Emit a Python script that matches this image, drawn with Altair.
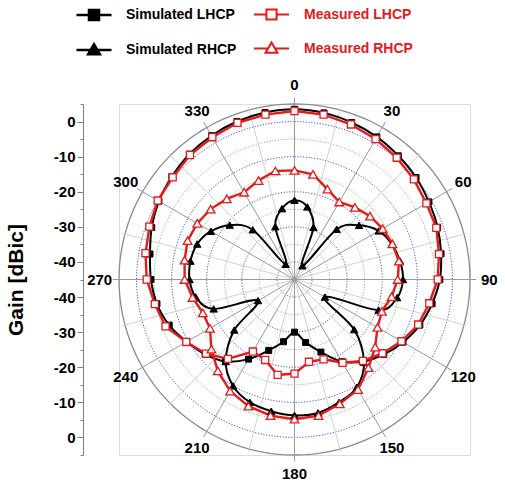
import altair as alt
import pandas as pd

# ---------------- data ----------------
angles = list(range(0, 360, 10))
sim_lhcp = [3.5, 3.2, 2.6, 1.9, 1.0, 0.2, -0.8, -1.6, -2.6, -3.6, -5.2, -7.0,
            -9.3, -11.8, -14.5, -18.0, -23.0, -26.8, -30.0, -27.0, -23.5, -18.8, -14.5, -11.8,
            -9.5, -7.0, -5.2, -4.1, -3.2, -1.7, -0.4, 0.6, 1.6, 2.3, 2.9, 3.3]
meas_lhcp = [3.0, 2.7, 2.0, 1.2, 0.3, -0.6, -1.6, -2.0, -3.2, -4.2, -6.0, -7.5,
             -9.8, -12.3, -14.7, -17.6, -20.8, -21.2, -18.2, -17.4, -20.6, -21.3, -15.5, -12.1,
             -9.4, -5.9, -4.6, -2.9, -1.9, -1.0, 0.0, 0.3, 1.3, 1.8, 2.5, 2.7]
sim_rhcp = [-22.4, -24.0, -29.2, -40.5, -26.3, -21.0, -17.3, -15.5, -14.5, -14.1, -15.3, -19.5,
            -35.0, -22.8, -14.2, -9.5, -7.8, -6.4, -6.3, -6.9, -7.8, -10.0, -14.5, -22.6,
            -33.0, -20.5, -16.4, -15.1, -14.9, -15.5, -17.5, -20.9, -26.5, -40.0, -29.0, -24.5]
meas_rhcp = [-13.9, -14.6, -17.6, -19.5, -18.2, -16.9, -16.0, -15.3, -14.8, -15.6, -16.9, -18.5,
             -17.7, -15.0, -12.2, -8.8, -7.3, -5.6, -5.2, -5.6, -6.6, -8.3, -11.0, -14.1,
             -17.2, -17.2, -15.5, -13.7, -13.2, -12.6, -13.0, -13.8, -15.0, -16.3, -15.0, -13.6]

series_names = ["Simulated LHCP", "Measured LHCP", "Simulated RHCP", "Measured RHCP"]
angle_labels = list(range(0, 360, 30))
spoke_angles = list(range(0, 360, 15))
ring_major = [-40, -30, -20, -10, 0]
ring_minor = [-35, -25, -15, -5]
ring_outer = [5]
radial_ticks = list(range(-50, 51, 5))  # distance from centre; centre = -45 dBic
GAIN_MIN = -45

RED = "#e41a1c"
FONT = "Liberation Sans"

rows = []
for name, vals in zip(series_names, [sim_lhcp, meas_lhcp, sim_rhcp, meas_rhcp]):
    for a, g in zip(angles, vals):
        rows.append({"series": name, "angle": a, "gain": g})
df = pd.DataFrame(rows)

ring_rows = []
for kind, gains in (("major", ring_major), ("minor", ring_minor), ("outer", ring_outer)):
    for g in gains:
        for a in range(0, 361, 2):
            ring_rows.append({"ring": g, "kind": kind, "angle": a, "gain": g})
rings = pd.DataFrame(ring_rows)

spokes = pd.DataFrame({"angle": spoke_angles,
                       "kind": ["major" if a % 30 == 0 else "minor" for a in spoke_angles]})
labels = pd.DataFrame({"angle": angle_labels, "label": [str(a) for a in angle_labels]})

# ---------------- scales / axes ----------------
xs = alt.Scale(domain=[-50, 50], nice=False, zero=False)
ys = alt.Scale(domain=[-50, 50], nice=False, zero=False)
yaxis = alt.Axis(
    values=radial_ticks,
    labelExpr="abs(datum.value) % 10 == 5 ? (abs(datum.value) == 45 ? '0' : '-' + toString(45 - abs(datum.value))) : ''",
    tickSize={"condition": {"test": "abs(datum.value) % 10 == 5", "value": 6}, "value": 3},
    offset=36, grid=False, domainColor="#808080", tickColor="#808080",
    labelFont=FONT, labelFontSize=15, labelFontWeight="bold", labelColor="black",
    labelPadding=2, labelOverlap=False, labelFlush=False,
    title="Gain [dBic]", titleFont=FONT, titleFontSize=21, titleFontWeight="bold",
    titleColor="black", titlePadding=27,
)


def X(f):
    return alt.X(f, type="quantitative", scale=xs, axis=None)


def Y(f):
    return alt.Y(f, type="quantitative", scale=ys, axis=yaxis)


def polar(ch, r_expr):
    return (ch.transform_calculate(r=r_expr)
              .transform_calculate(x="datum.r * sin(datum.angle * PI / 180)",
                                   y="datum.r * cos(datum.angle * PI / 180)"))


GAIN_R = f"max(0, datum.gain - ({GAIN_MIN}))"

layers = []

# grid rings
ring_style = {
    "major": dict(color="#4f4fe8", strokeWidth=1, strokeDash=[1.2, 1.6]),
    "minor": dict(color="#74d474", strokeWidth=1, strokeDash=[1.2, 1.6]),
    "outer": dict(color="#8a8a8a", strokeWidth=1.3),
}
for kind, st in ring_style.items():
    layers.append(
        polar(alt.Chart(rings).transform_filter(alt.datum.kind == kind), GAIN_R)
        .mark_line(**st)
        .encode(x=X("x"), y=Y("y"), detail="ring:N", order=alt.Order("angle:Q"))
    )

# spokes
for kind, col, rend in (("minor", "#d2d2d2", 50.8), ("major", "#9a9a9a", 51.8)):
    layers.append(
        alt.Chart(spokes).transform_filter(alt.datum.kind == kind)
        .transform_calculate(x0="0", y0="0",
                             x1=f"{rend} * sin(datum.angle * PI / 180)",
                             y1=f"{rend} * cos(datum.angle * PI / 180)")
        .mark_rule(color=col, strokeWidth=1)
        .encode(x=X("x0"), y=Y("y0"), x2="x1:Q", y2="y1:Q")
    )

# angle labels
layers.append(
    polar(alt.Chart(labels), "55.5")
    .mark_text(font=FONT, fontSize=15, fontWeight="bold", color="black",
               align="center", baseline="middle")
    .encode(x=X("x"), y=Y("y"), text="label:N")
)

# data lines
line_style = {
    "Simulated LHCP": dict(color="black", strokeWidth=2, interpolate="cardinal-closed"),
    "Simulated RHCP": dict(color="black", strokeWidth=2, interpolate="cardinal-closed"),
    "Measured LHCP": dict(color=RED, strokeWidth=2.4, interpolate="linear-closed"),
    "Measured RHCP": dict(color=RED, strokeWidth=2.4, interpolate="linear-closed"),
}
point_style = {
    "Simulated LHCP": dict(shape="square", filled=True, fill="black", stroke="black", size=36, strokeWidth=1),
    "Simulated RHCP": dict(shape="triangle-up", filled=True, fill="black", stroke="black", size=55, strokeWidth=1),
    "Measured LHCP": dict(shape="square", filled=True, fill="white", stroke=RED, size=50, strokeWidth=1.3),
    "Measured RHCP": dict(shape="triangle-up", filled=True, fill="white", stroke=RED, size=75, strokeWidth=1.3),
}
for name in ["Simulated LHCP", "Simulated RHCP", "Measured LHCP", "Measured RHCP"]:
    layers.append(
        polar(alt.Chart(df).transform_filter(alt.datum.series == name), GAIN_R)
        .mark_line(**line_style[name])
        .encode(x=X("x"), y=Y("y"), order=alt.Order("angle:Q"))
    )
for name in ["Simulated LHCP", "Simulated RHCP", "Measured LHCP", "Measured RHCP"]:
    layers.append(
        polar(alt.Chart(df).transform_filter(alt.datum.series == name), GAIN_R)
        .mark_point(opacity=1, **point_style[name])
        .encode(x=X("x"), y=Y("y"))
    )

# legends (two columns: simulated in black, measured in red)
SQ = "M-1,0H-0.29M0.29,0H1M-0.29,-0.29H0.29V0.29H-0.29Z"
TRI = "M-1,0H-0.2M0.2,0H1M0,-0.34L0.34,0.24H-0.34Z"
sim_names = ["Simulated LHCP", "Simulated RHCP"]
meas_names = ["Measured LHCP", "Measured RHCP"]
leg_common = dict(title=None, orient="none", direction="vertical", symbolSize=1225,
                  labelFont=FONT, labelFontSize=14,
                  labelFontWeight="bold", rowPadding=6, padding=0, labelLimit=300)
layers.append(
    alt.Chart(pd.DataFrame({"sim": sim_names})).transform_filter("false")
    .mark_point(filled=True, size=1225, opacity=1)
    .encode(shape=alt.Shape("sim:N", scale=alt.Scale(domain=sim_names, range=[SQ, TRI]),
                            legend=alt.Legend(legendX=-44, legendY=-108, labelOffset=13,
                                              labelColor="black", symbolStrokeWidth=2.4,
                                              **leg_common)),
            fill=alt.value("black"), stroke=alt.value("black"),
            strokeWidth=alt.value(2.4))
)
layers.append(
    alt.Chart(pd.DataFrame({"meas": meas_names})).transform_filter("false")
    .mark_point(filled=True, size=1225, opacity=1)
    .encode(shape=alt.Shape("meas:N", scale=alt.Scale(domain=meas_names, range=[SQ, TRI]),
                            legend=alt.Legend(legendX=134, legendY=-108, labelOffset=14,
                                              labelColor=RED, symbolStrokeWidth=2,
                                              **leg_common)),
            fill=alt.value("white"), stroke=alt.value(RED),
            strokeWidth=alt.value(2))
)

chart = (
    alt.layer(*layers)
    .properties(width=351, height=351,
                padding={"left": 119, "top": 104, "right": 35, "bottom": 28},
                autosize=alt.AutoSizeParams(type="none"))
    .resolve_scale(shape="independent")
    .configure_view(strokeWidth=0)
    .configure(font=FONT)
)

chart.save("out.html", embed_options={"renderer": "svg", "actions": False})
